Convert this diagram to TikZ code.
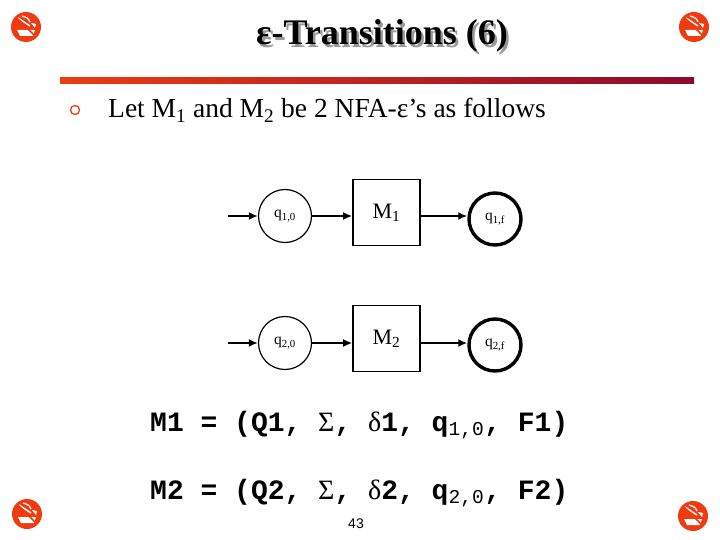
\documentclass[tikz,border=0pt]{standalone}
\usepackage{fontspec}
\setmainfont{Liberation Serif}
\setsansfont{Liberation Sans}
\setmonofont{Liberation Mono}
\usetikzlibrary{arrows.meta, positioning, calc}
\definecolor{slidered}{HTML}{EC3C12}
\definecolor{slidedark}{HTML}{8C0A2E}
\definecolor{iconred}{HTML}{F03A10}
\newcommand{\greek}[1]{{\rmfamily\mdseries #1}}
% no-smoking sign in the corners
\newcommand{\cornericon}[1]{%
  \fill[iconred] (#1) circle (15);
  \fill[white] ($(#1)+(-9,3)$) -- ($(#1)+(9,3)$) -- ($(#1)+(7,9)$) -- ($(#1)+(-6,9)$) -- cycle;
  \draw[white, line width=1.4pt] ($(#1)+(-8,-9)$) -- ($(#1)+(4,-1)$);
  \draw[white, line width=1.2pt] ($(#1)+(-4,-11)$) .. controls ($(#1)+(2,-9)$) .. ($(#1)+(4,-5)$);
  \fill[white] ($(#1)+(5,-4)$) -- ($(#1)+(10,-3)$) -- ($(#1)+(9,1)$) -- cycle;
  \draw[iconred, line width=1.6pt] ($(#1)+(-10,-10)$) -- ($(#1)+(10,10)$);
}

\begin{document}
\begin{tikzpicture}[x=1pt, y=-1pt,
    nfastate/.style={circle, draw, line width=1.2pt, minimum size=53pt, inner sep=0pt,
      font=\fontsize{15.5}{18}\selectfont},
    finalstate/.style={nfastate, line width=3.4pt, minimum size=52pt},
    machine/.style={draw, line width=1.6pt, minimum width=67pt, minimum height=66pt,
      font=\fontsize{22}{24}\selectfont},
    link/.style={-{Latex[length=9pt,width=8pt]}, line width=2.6pt},
    tuple/.style={anchor=base west, inner sep=0pt, font=\fontsize{28}{30}\selectfont\ttfamily\bfseries}]
    \useasboundingbox (0,0) rectangle (720,540);

    % heading
    \node[text=black!40, font=\fontsize{36}{40}\selectfont\bfseries] at (384.5,38.5) {ε-Transitions (6)};
    \node (title) [font=\fontsize{36}{40}\selectfont\bfseries] at (382,36) {ε-Transitions (6)};
    \shade[left color=slidered, right color=slidedark] (60,78) rectangle (694,84);

    \cornericon{26,27}
    \cornericon{694,27}
    \cornericon{27,514}
    \cornericon{693,516}

    % bullet
    \draw[slidered, line width=1.3pt] (75,110) circle (4.5);
    \node (intro) [anchor=base west, inner sep=0pt, font=\fontsize{27.5}{30}\selectfont] at (108,118)
      {Let M\textsubscript{1} and M\textsubscript{2} be 2 NFA-ε’s as follows};

    % the two machines
    \node[nfastate] (q10) at (285,216) {q\textsubscript{1,0}};
    \node[machine] (m1) at (386.5,212.5) {M\textsubscript{1}};
    \node[finalstate] (q1f) at (495,219) {q\textsubscript{1,f}};
    \coordinate (in1) at (228,216);

    \node[nfastate] (q20) at (285,343) {q\textsubscript{2,0}};
    \node[machine] (m2) at (386.5,338.5) {M\textsubscript{2}};
    \node[finalstate] (q2f) at (495,345) {q\textsubscript{2,f}};
    \coordinate (in2) at (228,343);

    \draw[link] (in1) -- (q10);
    \draw[link] (q10) -- (q10 -| m1.west);
    \draw[link] (m1.east |- q10) -- (q1f.west |- q10);
    \draw[link] (in2) -- (q20);
    \draw[link] (q20) -- (q20 -| m2.west);
    \draw[link] (m2.east |- q20) -- (q2f.west |- q20);

    % tuples
    \node (tuple1) [tuple] at (150,431)
      {M1 = (Q1, \greek{Σ}, \greek{δ}1, q\textsubscript{\mdseries 1,0}, F1)};
    \node (tuple2) [tuple] at (150,499)
      {M2 = (Q2, \greek{Σ}, \greek{δ}2, q\textsubscript{\mdseries 2,0}, F2)};

    \node (page) [font=\fontsize{14}{16}\selectfont\sffamily] at (356,524) {43};
\end{tikzpicture}
\end{document}
